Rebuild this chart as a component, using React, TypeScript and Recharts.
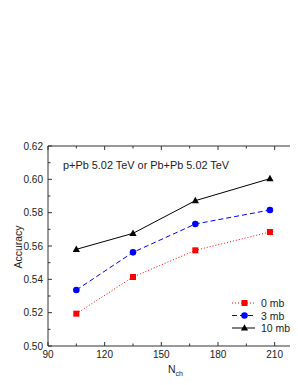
import React from 'react';
import { LineChart, Line, XAxis, YAxis } from 'recharts';

// values
const nch = [105, 135, 168, 207.5];
const acc0mb = [0.5194, 0.5414, 0.5574, 0.5684];
const acc3mb = [0.5336, 0.5562, 0.5732, 0.5816];
const acc10mb = [0.558, 0.5676, 0.5872, 0.6004];

const xTicks = [90, 105, 120, 135, 150, 165, 180, 195, 210, 225];
const yTicks = [0.5, 0.51, 0.52, 0.53, 0.54, 0.55, 0.56, 0.57, 0.58, 0.59, 0.6, 0.61, 0.62];

const seriesNames = ['0 mb', '3 mb', '10 mb'];

const data = nch.map((n, i) => ({
  nch: n,
  a0: acc0mb[i],
  a3: acc3mb[i],
  a10: acc10mb[i],
}));

const FONT = '"Liberation Sans", Arial, sans-serif';
const AXIS = '#333';

const BottomTick = (props: any) => {
  const { x, y, payload } = props;
  const major = payload.value % 30 === 0;
  return (
    <g>
      <line x1={x} x2={x} y1={y} y2={y - (major ? 4 : 2.5)} stroke={AXIS} />
      {major && (
        <text x={x} y={y + 12} textAnchor="middle" fontSize={10} fontFamily={FONT} fill="#222">
          {payload.value}
        </text>
      )}
    </g>
  );
};

const TopTick = (props: any) => {
  const { x, y, payload } = props;
  const major = payload.value % 30 === 0;
  return <line x1={x} x2={x} y1={y} y2={y + (major ? 4 : 2.5)} stroke={AXIS} />;
};

const LeftTick = (props: any) => {
  const { x, y, payload } = props;
  const major = Math.round(payload.value * 100) % 2 === 0;
  return (
    <g>
      <line x1={x} x2={x + (major ? 4 : 2.5)} y1={y} y2={y} stroke={AXIS} />
      {major && (
        <text x={x - 5} y={y + 3.5} textAnchor="end" fontSize={10} fontFamily={FONT} fill="#222">
          {payload.value.toFixed(2)}
        </text>
      )}
    </g>
  );
};

const SquareDot = (props: any) => {
  const { cx, cy } = props;
  return <rect x={cx - 3} y={cy - 3} width={6} height={6} fill="#ff0000" />;
};

const CircleDot = (props: any) => {
  const { cx, cy } = props;
  return <circle cx={cx} cy={cy} r={3.3} fill="#0000ff" />;
};

const TriangleDot = (props: any) => {
  const { cx, cy } = props;
  return <polygon points={`${cx},${cy - 3.8} ${cx - 3.6},${cy + 2.6} ${cx + 3.6},${cy + 2.6}`} fill="#000" />;
};

const legendStyles = [
  { color: '#ff0000', dash: '1 2' },
  { color: '#0000ff', dash: '5 3' },
  { color: '#000000', dash: undefined },
];

const LegendBox = () => (
  <svg width={80} height={40} style={{ position: 'absolute', left: 224, top: 289, overflow: 'visible' }}>
    {seriesNames.map((name, i) => {
      const y = 6 + i * 12.5;
      const s = legendStyles[i];
      return (
        <g key={name}>
          <line x1={0} x2={23} y1={y} y2={y} stroke={s.color} strokeDasharray={s.dash} />
          {i === 0 && <rect x={9.5} y={y - 3} width={6} height={6} fill={s.color} />}
          {i === 1 && <circle cx={12.5} cy={y} r={3.3} fill={s.color} />}
          {i === 2 && <polygon points={`12.5,${y - 3.8} 8.9,${y + 2.6} 16.1,${y + 2.6}`} fill={s.color} />}
          <text x={29} y={y + 4} fontSize={10.5} fontFamily={FONT} fill="#222">
            {name}
          </text>
        </g>
      );
    })}
  </svg>
);

export default function App() {
  return (
    <div style={{ position: 'relative', width: 290, height: 377, overflow: 'hidden', fontFamily: FONT }}>
      <LineChart width={300} height={377} data={data} margin={{ top: 137, right: 5, bottom: 19, left: 0 }}>
        <XAxis
          dataKey="nch"
          type="number"
          domain={[90, 225]}
          ticks={xTicks}
          interval={0}
          allowDataOverflow
          height={20}
          tickSize={0}
          tickMargin={0}
          tickLine={false}
          stroke={AXIS}
          tick={<BottomTick />}
        />
        <XAxis
          xAxisId="top"
          orientation="top"
          dataKey="nch"
          type="number"
          domain={[90, 225]}
          ticks={xTicks}
          interval={0}
          allowDataOverflow
          height={1}
          tickSize={0}
          tickMargin={0}
          tickLine={false}
          stroke={AXIS}
          tick={<TopTick />}
        />
        <YAxis
          type="number"
          domain={[0.5, 0.62]}
          ticks={yTicks}
          interval={0}
          allowDataOverflow
          width={40}
          tickSize={0}
          tickMargin={0}
          tickLine={false}
          stroke={AXIS}
          tick={<LeftTick />}
        />
        <Line
          dataKey="a0"
          stroke="#ff0000"
          strokeWidth={1}
          strokeDasharray="1 2"
          dot={<SquareDot />}
          isAnimationActive={false}
        />
        <Line
          dataKey="a3"
          stroke="#0000ff"
          strokeWidth={1}
          strokeDasharray="5 3"
          dot={<CircleDot />}
          isAnimationActive={false}
        />
        <Line
          dataKey="a10"
          stroke="#000000"
          strokeWidth={1}
          dot={<TriangleDot />}
          isAnimationActive={false}
        />
      </LineChart>
      <LegendBox />
      <div style={{ position: 'absolute', left: 55, top: 151, fontSize: 10.9, lineHeight: '12px', color: '#222', whiteSpace: 'nowrap' }}>
        p+Pb 5.02 TeV or Pb+Pb 5.02 TeV
      </div>
      <div style={{ position: 'absolute', left: 10, top: 239, width: 0, height: 0 }}>
        <div
          style={{
            position: 'absolute',
            transform: 'translate(-50%, -50%) rotate(-90deg)',
            fontSize: 10.5,
            lineHeight: '12px',
            color: '#222',
            whiteSpace: 'nowrap',
          }}
        >
          Accuracy
        </div>
      </div>
      <div style={{ position: 'absolute', left: 160, top: 355, fontSize: 10.5, lineHeight: '12px', color: '#222', whiteSpace: 'nowrap' }}>
        N<sub style={{ fontSize: 7, verticalAlign: 'baseline', position: 'relative', top: 3 }}>ch</sub>
      </div>
    </div>
  );
}
